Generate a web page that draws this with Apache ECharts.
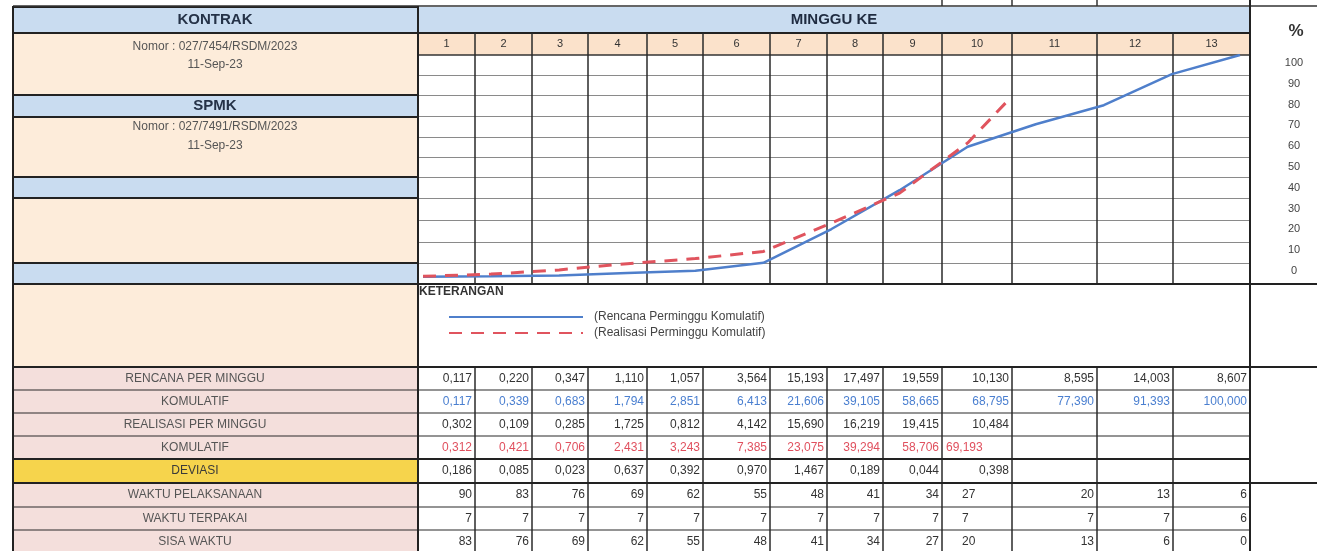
<!DOCTYPE html>
<html>
<head>
<meta charset="utf-8">
<script src="https://cdn.jsdelivr.net/npm/echarts@6/dist/echarts.min.js"></script>
<style>
  html, body { margin: 0; padding: 0; background: #fff; }
  #main { width: 1317px; height: 551px; }
</style>
</head>
<body>
<div id="main"></div>
<script>
// data
const mingguKe = ['1', '2', '3', '4', '5', '6', '7', '8', '9', '10', '11', '12', '13'];
const rencanaPerMinggu = [0.117, 0.220, 0.347, 1.110, 1.057, 3.564, 15.193, 17.497, 19.559, 10.130, 8.595, 14.003, 8.607];
const rencanaKomulatif = [0.117, 0.339, 0.683, 1.794, 2.851, 6.413, 21.606, 39.105, 58.665, 68.795, 77.390, 91.393, 100.000];
const realisasiPerMinggu = [0.302, 0.109, 0.285, 1.725, 0.812, 4.142, 15.690, 16.219, 19.415, 10.484];
const realisasiKomulatif = [0.312, 0.421, 0.706, 2.431, 3.243, 7.385, 23.075, 39.294, 58.706, 69.193];
const deviasi = [0.186, 0.085, 0.023, 0.637, 0.392, 0.970, 1.467, 0.189, 0.044, 0.398];
const waktuPelaksanaan = [90, 83, 76, 69, 62, 55, 48, 41, 34, 27, 20, 13, 6];
const waktuTerpakai = [7, 7, 7, 7, 7, 7, 7, 7, 7, 7, 7, 7, 6];
const sisaWaktu = [83, 76, 69, 62, 55, 48, 41, 34, 27, 20, 13, 6, 0];
// red curve as it is drawn on the sheet: [minggu, persen]
const kurvaRealisasi = [[1, 0.3], [2, 1.3], [3, 3.2], [4, 6.0], [5, 8.3], [6, 11.5], [7, 24.3], [8, 37.8], [9, 60.4], [9.57, 78.8]];
const rowLabels = ['RENCANA PER MINGGU', 'KOMULATIF', 'REALISASI PER MINGGU', 'KOMULATIF', 'DEVIASI',
  'WAKTU PELAKSANAAN', 'WAKTU TERPAKAI', 'SISA WAKTU'];

const FONT = "'Liberation Sans', Arial, sans-serif";
const BLUE_BG = '#c9dcf0', PEACH = '#fdecda', PEACH2 = '#fbe2cb', PINK = '#f4dfdc', YELLOW = '#f6d44c';
const LINE_BLUE = '#4f7fcb', LINE_RED = '#e0545e';

// sheet layout
const colX = [418, 475, 532, 588, 647, 703, 770, 827, 883, 942, 1012, 1097, 1173, 1250];
const chartRowY = [55, 75, 95, 116, 137, 157, 177, 198, 220, 242, 263, 284];
const dataRowY = [367, 390, 413, 436, 459, 483, 507, 530, 553];
const L0 = 13, R1 = 1250, W = 1317;

const g = [];
function rect(x, y, w, h, fill) {
  g.push({ type: 'rect', z: 0, silent: true, shape: { x, y, width: w, height: h }, style: { fill } });
}
function line(x1, y1, x2, y2, w, color) {
  g.push({ type: 'line', z: 1, silent: true, shape: { x1, y1, x2, y2 }, style: { stroke: color || '#222', lineWidth: w || 1 } });
}
function text(x, y, str, font, color, align) {
  const a = align || 'center';
  g.push({ type: 'text', z: 10, silent: true, x, y, style: {
    text: str, font, fill: color || '#333',
    textAlign: a, textVerticalAlign: 'middle', align: a, verticalAlign: 'middle'
  } });
}

// left blocks
[[7, 33, BLUE_BG], [33, 95, PEACH], [95, 117, BLUE_BG], [117, 177, PEACH], [177, 198, BLUE_BG],
 [198, 263, PEACH], [263, 284, BLUE_BG], [284, 367, PEACH]].forEach(b => {
  rect(L0, b[0], colX[0] - L0, b[1] - b[0], b[2]);
  line(L0, b[0], colX[0], b[0], 2, '#222');
});
text(215, 20, 'KONTRAK', 'bold 15px ' + FONT, '#253247');
text(215, 47, 'Nomor : 027/7454/RSDM/2023', '12px ' + FONT, '#555');
text(215, 65, '11-Sep-23', '12px ' + FONT, '#555');
text(215, 106, 'SPMK', 'bold 15px ' + FONT, '#253247');
text(215, 127, 'Nomor : 027/7491/RSDM/2023', '12px ' + FONT, '#555');
text(215, 146, '11-Sep-23', '12px ' + FONT, '#555');

// chart header
rect(colX[0], 7, R1 - colX[0], 26, BLUE_BG);
rect(colX[0], 33, R1 - colX[0], 22, PEACH2);
text((colX[0] + R1) / 2, 20, 'MINGGU KE', 'bold 15px ' + FONT, '#1f2b40');
mingguKe.forEach((m, i) => text((colX[i] + colX[i + 1]) / 2, 44, m, '11px ' + FONT, '#333'));

// chart grid lines
chartRowY.slice(1, -1).forEach(y => line(colX[0], y + 0.5, R1, y + 0.5, 1, '#8a8a8a'));
line(colX[0], 55, R1, 55, 1.5, '#333');
line(L0, 33, R1, 33, 2, '#222');
colX.slice(1, -1).forEach(x => line(x, 33, x, 284, 1.5, '#2a2a2a'));
line(L0, 284, W, 284, 2, '#222');

// top stray edge
line(L0, 6, W, 6, 1.5, '#333');
[942, 1012, 1097].forEach(x => line(x, 0, x, 6, 1.5, '#333'));

// keterangan
text(419, 292, 'KETERANGAN', 'bold 12px ' + FONT, '#333', 'left');

// table rows
const rows = [rencanaPerMinggu, rencanaKomulatif, realisasiPerMinggu, realisasiKomulatif, deviasi,
  waktuPelaksanaan, waktuTerpakai, sisaWaktu];
const valColor = ['#333', '#4a7fd0', '#333', '#e0505e', '#333', '#333', '#333', '#333'];
const leftWeek10 = { 3: 4, 5: 20, 6: 20, 7: 20 };
rows.forEach((vals, r) => {
  const y0 = dataRowY[r], y1 = dataRowY[r + 1], yc = (y0 + y1) / 2;
  rect(L0, y0, colX[0] - L0, y1 - y0, r === 4 ? YELLOW : PINK);
  text(195, yc, rowLabels[r], '12px ' + FONT, r === 4 ? '#3a3a3a' : '#555');
  vals.forEach((v, c) => {
    const s = Number.isInteger(v) && r >= 5 ? String(v) : v.toFixed(3).replace('.', ',');
    if (c === 9 && leftWeek10[r] !== undefined) {
      text(colX[c] + leftWeek10[r], yc, s, '12px ' + FONT, valColor[r], 'left');
    } else {
      text(colX[c + 1] - 3, yc, s, '12px ' + FONT, valColor[r], 'right');
    }
  });
  line(L0, y0, R1, y0, r === 0 ? 2 : 1.2, '#2a2a2a');
  colX.slice(1, -1).forEach(x => line(x, y0, x, y1, 1.5, '#2a2a2a'));
});
line(L0, 367, W, 367, 2, '#222');
line(L0, 459, R1, 459, 1.8, '#222');
line(L0, 483, W, 483, 1.8, '#222');

// outer verticals
line(L0, 6, L0, 553, 2, '#222');
line(colX[0], 6, colX[0], 553, 2, '#222');
line(R1, 0, R1, 553, 2, '#222');

// right column
text(1296, 31, '%', 'bold 17px ' + FONT, '#333');

const chart = echarts.init(document.getElementById('main'));
chart.setOption({
  animation: false,
  backgroundColor: '#fff',
  graphic: { elements: g },
  grid: [
    { left: 423, right: 77, top: 55, height: 222 },
    { left: 1294, width: 1, top: 63, height: 208 }
  ],
  xAxis: [
    { gridIndex: 0, type: 'value', min: 1, max: 13, show: false },
    { gridIndex: 1, type: 'value', min: 0, max: 1, show: false }
  ],
  yAxis: [
    { gridIndex: 0, type: 'value', min: 0, max: 100, show: false },
    {
      gridIndex: 1, type: 'value', min: 0, max: 100, interval: 10,
      axisLine: { show: false }, axisTick: { show: false }, splitLine: { show: false },
      axisLabel: { margin: 0, align: 'center', fontFamily: FONT, fontSize: 11, color: '#444' }
    }
  ],
  legend: {
    orient: 'vertical', left: 443, top: 306, itemWidth: 134, itemHeight: 14, itemGap: 4,
    data: ['(Rencana Perminggu Komulatif)', '(Realisasi Perminggu Komulatif)'],
    itemStyle: { opacity: 0, color: 'rgba(0,0,0,0)', borderWidth: 0 },
    textStyle: { fontFamily: FONT, fontSize: 12, color: '#444', padding: [0, 0, 0, 6] }
  },
  series: [
    {
      name: '(Rencana Perminggu Komulatif)', type: 'line', xAxisIndex: 0, yAxisIndex: 0, z: 5,
      data: rencanaKomulatif.map((v, i) => [i + 1, v]),
      symbol: 'none', lineStyle: { color: LINE_BLUE, width: 2.5 }, itemStyle: { color: LINE_BLUE }
    },
    {
      name: '(Realisasi Perminggu Komulatif)', type: 'line', xAxisIndex: 0, yAxisIndex: 0, z: 6,
      data: kurvaRealisasi,
      symbol: 'none', lineStyle: { color: LINE_RED, width: 3, type: [13, 9] }, itemStyle: { color: LINE_RED }
    }
  ]
});
</script>
</body>
</html>
